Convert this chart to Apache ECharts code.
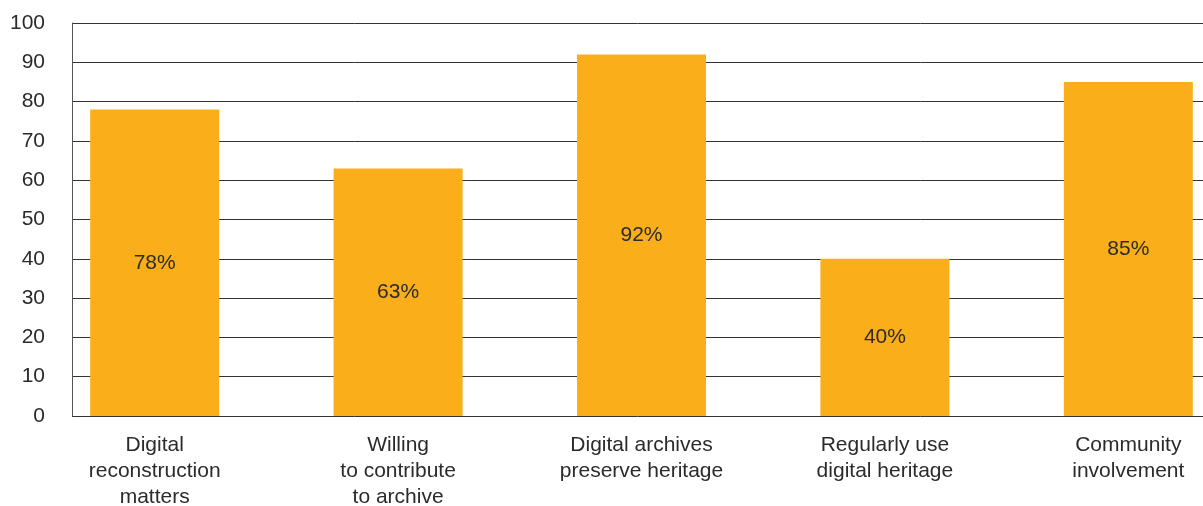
<!DOCTYPE html>
<html>
<head>
<meta charset="utf-8">
<script src="https://cdn.jsdelivr.net/npm/echarts@6/dist/echarts.min.js"></script>
<style>
  html, body { margin: 0; padding: 0; background: #fff; }
  #chart { width: 1203px; height: 506px; }
</style>
</head>
<body>
<div id="chart"></div>
<script>
var categories = [
    'Digital\nreconstruction\nmatters',
    'Willing\nto contribute\nto archive',
    'Digital archives\npreserve heritage',
    'Regularly use\ndigital heritage',
    'Community\ninvolvement'
];
var shares = [78, 63, 92, 40, 85];
var yTicks = { min: 0, max: 100, step: 10 };

var chart = echarts.init(document.getElementById('chart'));

var font = 'Liberation Sans, Arial, sans-serif';

chart.setOption({
    animation: false,
    backgroundColor: '#fff',
    // grid 0 carries the value axis and gridlines, grid 1 the bars
    grid: [
        { left: 72, right: 0, top: 23, bottom: 90, outerBoundsMode: 'none' },
        { left: 33, width: 1217, top: 23, bottom: 90, outerBoundsMode: 'none' }
    ],
    xAxis: [
        { type: 'value', gridIndex: 0, show: false, min: 0, max: 1 },
        {
            type: 'category',
            gridIndex: 1,
            data: categories,
            axisLine: { show: false },
            axisTick: { show: false },
            axisLabel: {
                interval: 0,
                margin: 16,
                fontFamily: font,
                fontSize: 21,
                lineHeight: 26,
                color: '#2b2b2b'
            }
        }
    ],
    yAxis: [
        {
            type: 'value',
            gridIndex: 0,
            min: yTicks.min,
            max: yTicks.max,
            interval: yTicks.step,
            axisLine: { show: true, lineStyle: { color: '#555', width: 1 } },
            axisTick: { show: false },
            axisLabel: {
                margin: 27,
                fontFamily: font,
                fontSize: 21,
                color: '#2b2b2b'
            },
            splitLine: { show: true, lineStyle: { color: '#333', width: 1 } }
        },
        { type: 'value', gridIndex: 1, show: false, min: yTicks.min, max: yTicks.max }
    ],
    series: [{
        type: 'bar',
        xAxisIndex: 1,
        yAxisIndex: 1,
        data: shares,
        barWidth: 129,
        itemStyle: { color: '#F9AE1A' },
        label: {
            show: true,
            position: 'inside',
            formatter: '{c}%',
            fontFamily: font,
            fontSize: 21,
            color: '#2b2b2b'
        }
    }]
});
</script>
</body>
</html>
